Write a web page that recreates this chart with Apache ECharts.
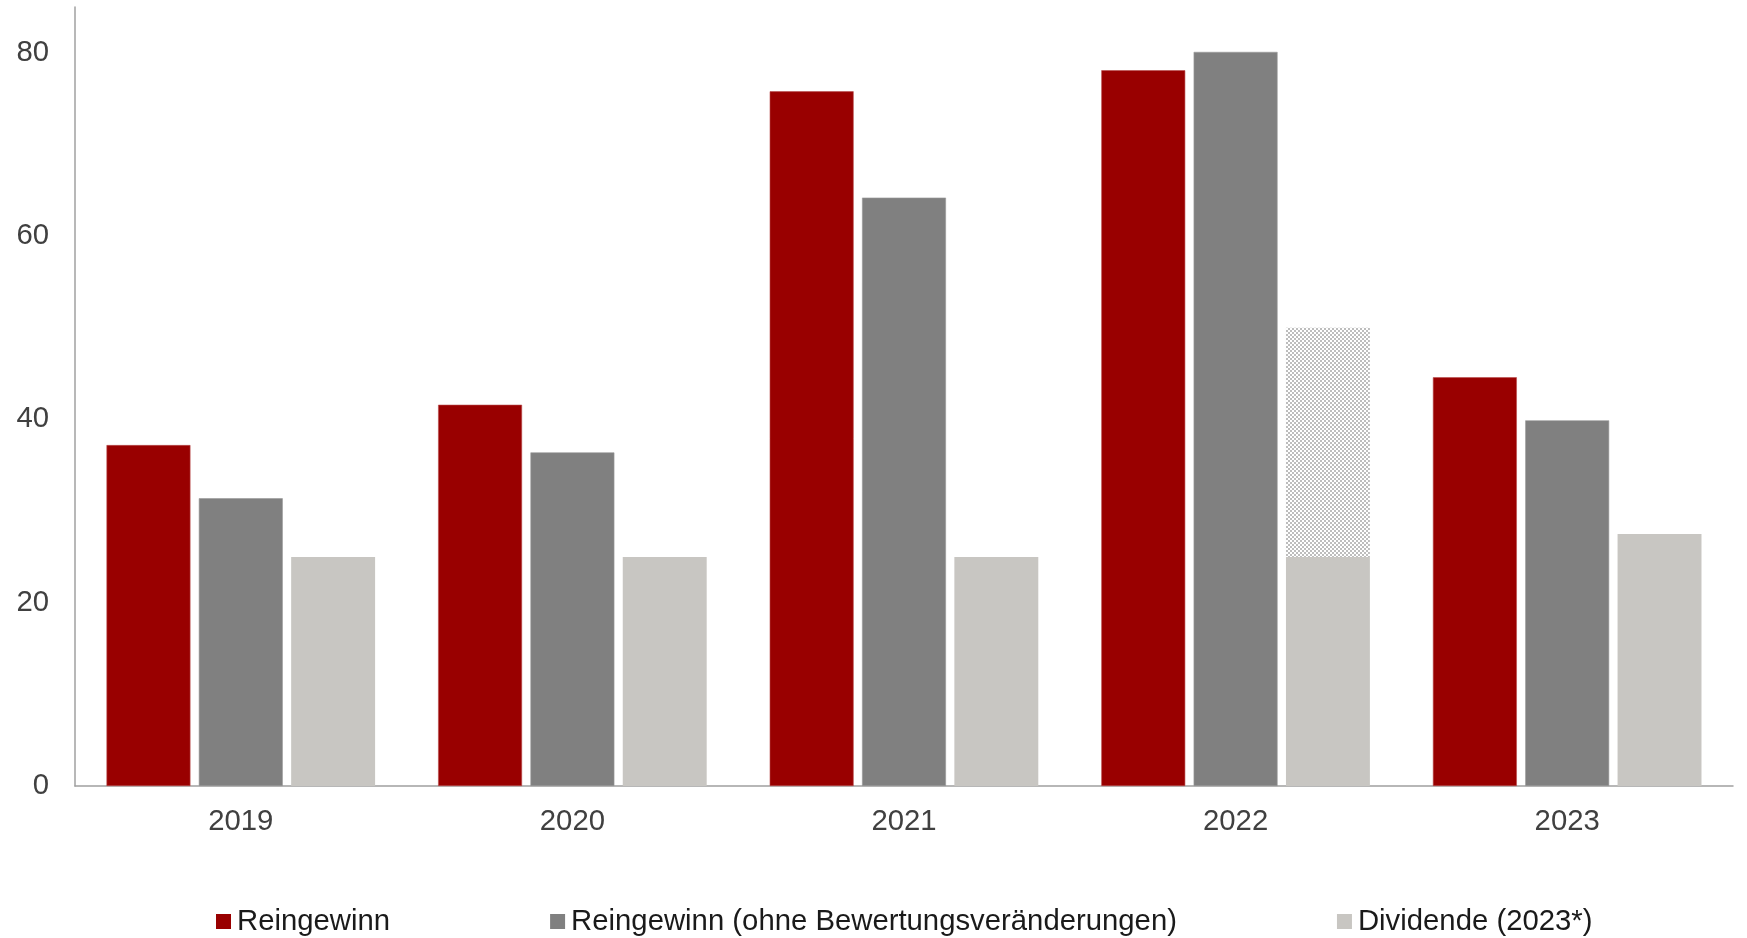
<!DOCTYPE html>
<html>
<head>
<meta charset="utf-8">
<script src="https://cdn.jsdelivr.net/npm/echarts@6/dist/echarts.min.js"></script>
<style>
  html, body { margin: 0; padding: 0; background: #ffffff; }
  #chart { width: 1747px; height: 938px; }
</style>
</head>
<body>
<div id="chart"></div>
<script>
// Jahre und Kennzahlen (Mio.)
const years = ['2019', '2020', '2021', '2022', '2023'];
const reingewinn = [37.2, 41.6, 75.8, 78.1, 44.6];
const reingewinnOhneBewertung = [31.4, 36.4, 64.2, 80.1, 39.9];
const dividende = [25, 25, 25, 25, 27.5];
// zusätzlicher Dividendenanteil 2022 (schraffiert, auf die Dividende gestapelt)
const dividendeZusatz = [null, null, null, 25, null];
const yTicks = [0, 20, 40, 60, 80];

const seriesNames = [
  'Reingewinn',
  'Reingewinn (ohne Bewertungsveränderungen)',
  'Dividende (2023*)'
];

// Schachbrettmuster für den schraffierten Balken
function checkerPattern() {
  const c = document.createElement('canvas');
  c.width = 4; c.height = 4;
  const ctx = c.getContext('2d');
  ctx.fillStyle = '#ffffff';
  ctx.fillRect(0, 0, 4, 4);
  ctx.fillStyle = '#bdbdbd';
  ctx.fillRect(0, 0, 2, 2);
  ctx.fillRect(2, 2, 2, 2);
  return c;
}

const FONT = '"Liberation Sans", Arial, sans-serif';
const FS = 29.3;
const chart = echarts.init(document.getElementById('chart'), null, { renderer: 'canvas' });

chart.setOption({
  animation: false,
  backgroundColor: '#ffffff',
  textStyle: { fontFamily: FONT },
  grid: { left: 75, right: 14, top: 7, bottom: 152, containLabel: false },
  legend: {
    data: seriesNames,
    left: 216,
    top: 907,
    padding: 0,
    itemWidth: 15,
    itemHeight: 15,
    itemGap: 160,
    icon: 'rect',
    itemStyle: { borderWidth: 0 },
    textStyle: { fontFamily: FONT, fontSize: FS, color: '#1a1a1a', padding: [0, 0, 0, 1] }
  },
  xAxis: {
    type: 'category',
    data: years,
    axisLine: { lineStyle: { color: '#a0a0a0', width: 1.5 } },
    axisTick: { show: false },
    axisLabel: { fontFamily: FONT, fontSize: FS, color: '#404040', margin: 21 }
  },
  yAxis: {
    type: 'value',
    min: yTicks[0],
    max: 85,
    interval: 20,
    axisLine: { show: true, lineStyle: { color: '#a0a0a0', width: 1.5 } },
    axisTick: { show: false },
    splitLine: { show: false },
    axisLabel: { fontFamily: FONT, fontSize: FS, color: '#404040', margin: 26, showMaxLabel: false }
  },
  series: [
    {
      name: seriesNames[0],
      type: 'bar',
      data: reingewinn,
      barGap: '10%',
      barCategoryGap: '19%',
      itemStyle: { color: '#990000', borderColor: '#b84c4c', borderWidth: 0.6 }
    },
    {
      name: seriesNames[1],
      type: 'bar',
      data: reingewinnOhneBewertung,
      itemStyle: { color: '#808080', borderColor: '#999999', borderWidth: 0.6 }
    },
    {
      name: seriesNames[2],
      type: 'bar',
      stack: 'dividende',
      data: dividende,
      itemStyle: { color: '#c8c6c2' }
    },
    {
      name: 'Dividende Zusatz',
      type: 'bar',
      stack: 'dividende',
      data: dividendeZusatz,
      itemStyle: { color: { image: checkerPattern(), repeat: 'repeat' } }
    }
  ]
});
</script>
</body>
</html>
